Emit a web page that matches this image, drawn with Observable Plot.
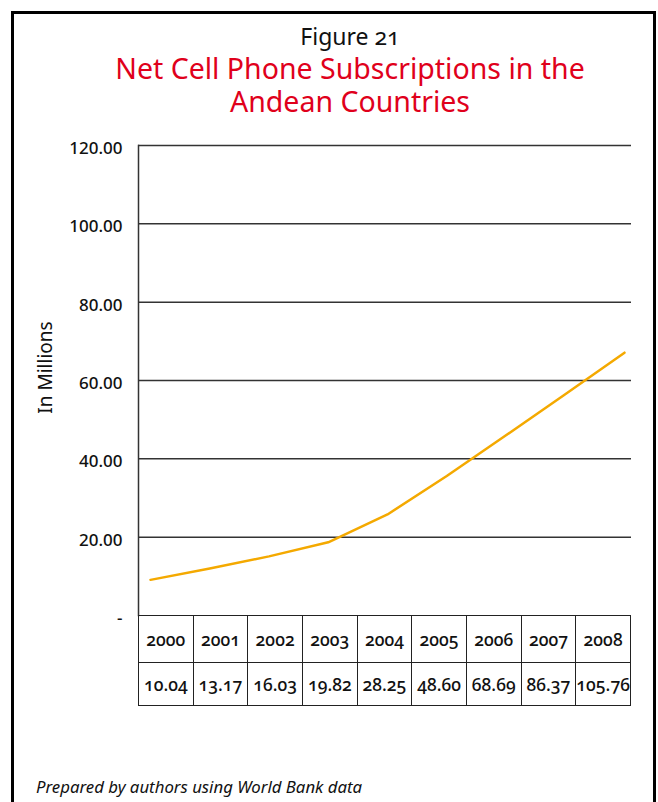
<!DOCTYPE html>
<html><head><meta charset="utf-8">
<script src="https://cdn.jsdelivr.net/npm/d3@7"></script>
<script src="https://cdn.jsdelivr.net/npm/@observablehq/plot@0.6"></script>
<style>
body{margin:0;width:658px;height:802px;overflow:hidden;background:#fff;font-family:"Noto Sans",sans-serif;font-variant-numeric:oldstyle-nums;position:relative;}
#frame{position:absolute;left:11px;top:11px;width:639px;height:900px;border:3px solid #000;border-bottom:none;}
#head{position:absolute;left:0;top:21px;width:700px;text-align:center;}
#fig{font-size:23px;color:#111;line-height:31px;}
#title1,#title2{font-size:28.5px;color:#e0001b;line-height:33px;}
#chart{position:absolute;left:0;top:0;}
#tbl{position:absolute;left:138px;top:615px;width:493px;border-collapse:collapse;table-layout:fixed;font-size:17.5px;color:#111;font-weight:500;}
#tbl td{border:1.5px solid #222;text-align:center;padding:0;}
#tbl tr.yr td{height:46px;}
#tbl tr.vl td{height:42px;}
#cap{position:absolute;left:36px;top:775px;font-size:16.8px;font-style:italic;color:#111;}
</style></head>
<body>
<div id="frame"></div>
<div id="head"><div id="fig">Figure 21</div><div id="title1">Net Cell Phone Subscriptions in the</div><div id="title2">Andean Countries</div></div>
<div id="chart"></div>
<table id="tbl"><tr class="yr"></tr><tr class="vl"></tr></table>
<div id="cap">Prepared by authors using World Bank data</div>
<script>
const years = [2000, 2001, 2002, 2003, 2004, 2005, 2006, 2007, 2008];
const lineValues = [9.1, 12.0, 15.1, 18.7, 25.8, 35.6, 46.0, 56.5, 67.1];
const tableValues = [10.04, 13.17, 16.03, 19.82, 28.25, 48.60, 68.69, 86.37, 105.76];
const yTicks = [0, 20, 40, 60, 80, 100, 120];
const gridTicks = [20, 40, 60, 80, 100, 120];
const yLabel = "In Millions";

const data = years.map((y, i) => ({year: y, value: lineValues[i]}));

const chart = Plot.plot({
  width: 658,
  height: 640,
  marginTop: 145,
  marginBottom: 25,
  marginLeft: 138,
  marginRight: 27,
  style: {fontFamily: "Noto Sans", fontSize: "17px", fontVariantNumeric: "oldstyle-nums", color: "#111", overflow: "visible"},
  x: {type: "linear", domain: [2000, 2008], range: [150, 624], axis: null},
  y: {domain: [0, 120]},
  marks: [
    Plot.ruleY(gridTicks, {stroke: "#333", strokeWidth: 1.5, strokeOpacity: 1}),
    Plot.frame({anchor: "left", stroke: "#333", strokeWidth: 1.5}),
    Plot.axisY(yTicks, {tickSize: 0, tickPadding: 16, dy: 3, tickFormat: d => d === 0 ? "-" : d.toFixed(2), label: null, fontSize: 17, fontWeight: 500}),
    Plot.text([yLabel], {frameAnchor: "left", textAnchor: "middle", rotate: -90, dx: -93, dy: -13, fontSize: 19, fill: "#111"}),
    Plot.line(data, {x: "year", y: "value", stroke: "#f4a900", strokeWidth: 2.5})
  ]
});
document.getElementById("chart").appendChild(chart);

const yr = document.querySelector("#tbl tr.yr");
const vl = document.querySelector("#tbl tr.vl");
years.forEach((y, i) => {
  const a = document.createElement("td"); a.textContent = y; yr.appendChild(a);
  const b = document.createElement("td"); b.textContent = tableValues[i].toFixed(2); vl.appendChild(b);
});
</script>
</body></html>
